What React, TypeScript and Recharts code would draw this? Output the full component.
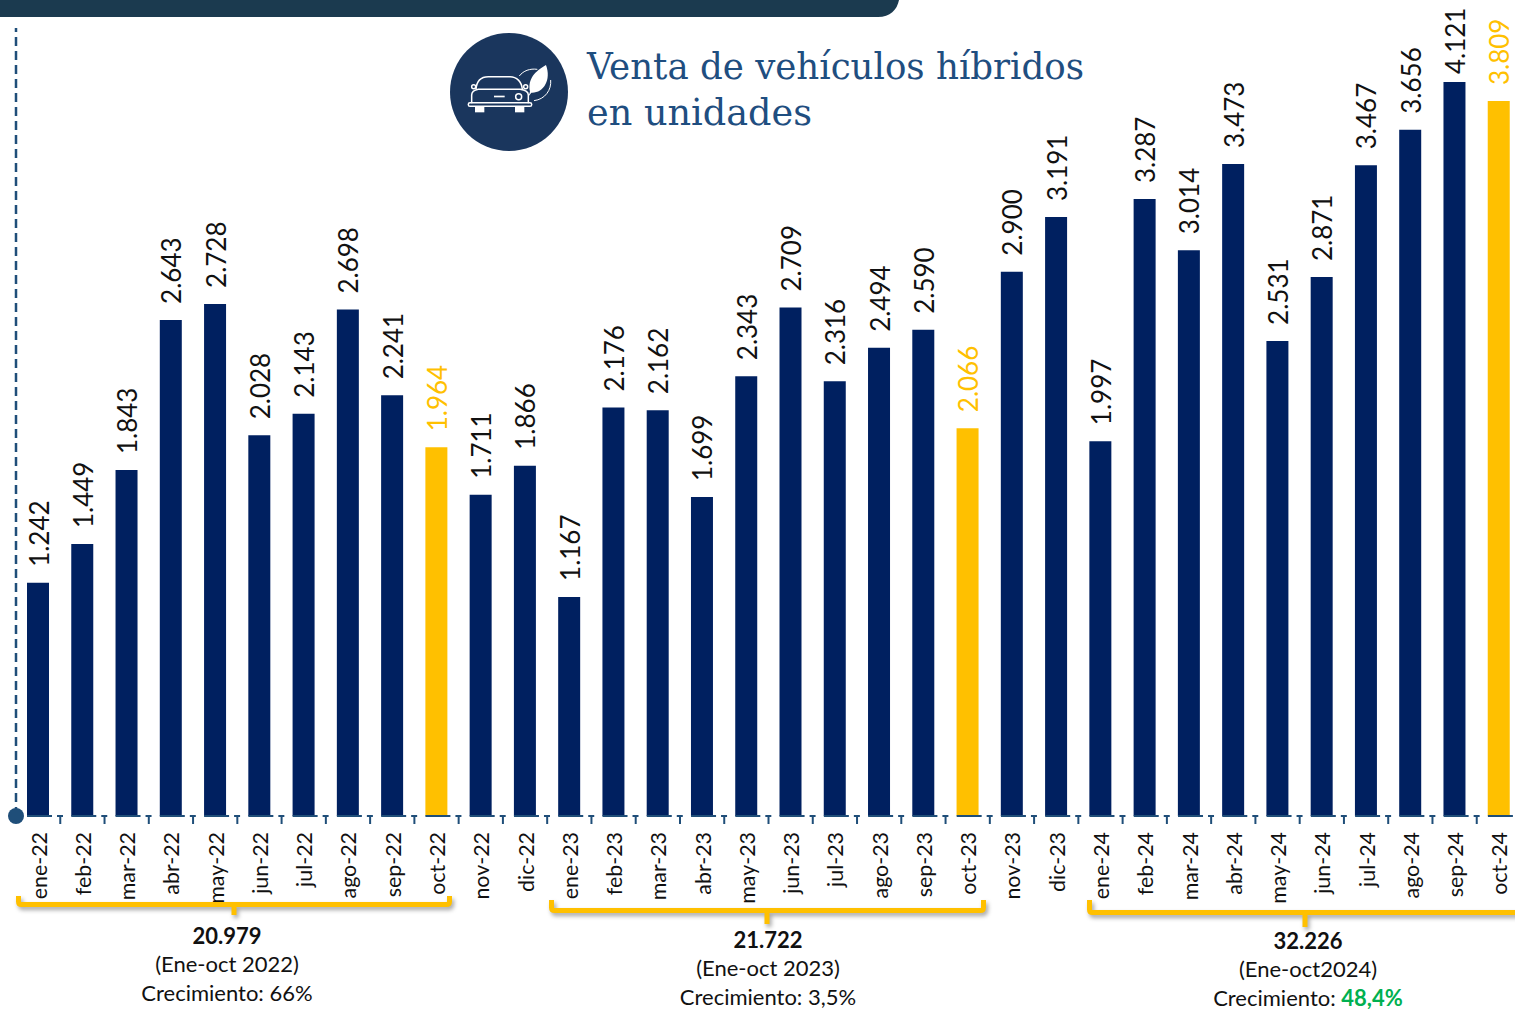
import React from 'react';
import { BarChart, Bar, Cell, XAxis, YAxis, LabelList } from 'recharts';

const months = [
    'ene-22', 'feb-22', 'mar-22', 'abr-22', 'may-22', 'jun-22', 'jul-22', 'ago-22', 'sep-22', 'oct-22', 'nov-22', 'dic-22',
    'ene-23', 'feb-23', 'mar-23', 'abr-23', 'may-23', 'jun-23', 'jul-23', 'ago-23', 'sep-23', 'oct-23', 'nov-23', 'dic-23',
    'ene-24', 'feb-24', 'mar-24', 'abr-24', 'may-24', 'jun-24', 'jul-24', 'ago-24', 'sep-24', 'oct-24',
];

// bar heights as drawn; sep-24 is drawn shorter in the source than its printed label
const barValues = [
    1242, 1449, 1843, 2643, 2728, 2028, 2143, 2698, 2241, 1964, 1711, 1866,
    1167, 2176, 2162, 1699, 2343, 2709, 2316, 2494, 2590, 2066, 2900, 3191,
    1997, 3287, 3014, 3473, 2531, 2871, 3467, 3656, 3910, 3809,
];

const printedLabels = [
    '1.242', '1.449', '1.843', '2.643', '2.728', '2.028', '2.143', '2.698', '2.241', '1.964', '1.711', '1.866',
    '1.167', '2.176', '2.162', '1.699', '2.343', '2.709', '2.316', '2.494', '2.590', '2.066', '2.900', '3.191',
    '1.997', '3.287', '3.014', '3.473', '2.531', '2.871', '3.467', '3.656', '4.121', '3.809',
];

const highlighted = ['oct-22', 'oct-23', 'oct-24'];

const NAVY = '#002060';
const AMBER = '#FFC000';
const AXIS_BLUE = '#1F4E79';
const FONT = 'Lato, "Open Sans", sans-serif';

const data = months.map((month, i) => ({ month, value: barValues[i], label: printedLabels[i] }));

const BAND = 44.27;

const MonthTick = ({ x, payload }: any) => (
    <g>
        <line x1={x + BAND / 2} x2={x + BAND / 2} y1={816} y2={824} stroke={AXIS_BLUE} strokeWidth={2} />
        <text
            transform={`translate(${x + 8.5},${832}) rotate(-90)`}
            textAnchor="end"
            fontFamily={FONT}
            fontSize={21.4}
            fill="#111"
        >
            {payload.value}
        </text>
    </g>
);

const ValueLabel = ({ x, y, width, index }: any) => {
    const isOct = highlighted.includes(months[index]);
    // the sep-24 label sits closer to its bar in the source
    const gap = months[index] === 'sep-24' ? 8 : 16;
    return (
        <text
            transform={`translate(${x + width / 2 + 10.5},${y - gap}) rotate(-90)`}
            fontFamily={FONT}
            fontSize={26}
            fill={isOct ? AMBER : '#111'}
        >
            {printedLabels[index]}
        </text>
    );
};

const Bracket = ({ left, right, top, bar, tipX, tipY }: any) => (
    <path
        d={`M${left} ${top} V${bar - 3} Q${left} ${bar} ${left + 3} ${bar} H${right - 3} Q${right} ${bar} ${right} ${bar - 3} V${top} M${tipX} ${bar} V${tipY}`}
        fill="none"
        stroke={AMBER}
        strokeWidth={5}
        style={{ filter: 'drop-shadow(2px 3px 2px rgba(0,0,0,0.35))' }}
    />
);

const Summary = ({ cx, y, total, period, growth, green }: any) => (
    <g fontFamily={FONT} fontSize={22} fill="#111" textAnchor="middle">
        <text x={cx} y={y + 1} fontWeight={700}>{total}</text>
        <text x={cx} y={y + 29}>{period}</text>
        <text x={cx} y={y + 58}>
            Crecimiento: {green ? <tspan fill="#00B050" fontWeight={700}>{growth}</tspan> : growth}
        </text>
    </g>
);

const CarIcon = () => (
    <g transform="translate(460,60) scale(0.3333)" fill="none" stroke="#fff" strokeWidth={4.5}>
        <path d="M48 88 C50 60 65 50 85 50 L150 50 C170 50 185 65 187 88" />
        <path d="M35 130 L35 105 C35 95 45 90 55 88 L180 88 C195 90 205 97 205 105 L205 130" />
        <rect x={25} y={128} width={190} height={11} rx={5} />
        <rect x={45} y={140} width={28} height={17} fill="#fff" stroke="none" />
        <rect x={165} y={140} width={28} height={17} fill="#fff" stroke="none" />
        <rect x={102} y={107} width={32} height={5} fill="#fff" stroke="none" />
        <circle cx={176} cy={110} r={9} />
        <circle cx={41} cy={80} r={6} />
        <circle cx={197} cy={80} r={6} />
        <path d="M258 15 C225 35 203 55 210 95 L205 110 L214 98 C250 100 275 60 258 15 Z" fill="#fff" stroke="none" />
        <path d="M178 48 C190 32 210 25 232 28" strokeWidth={3} />
        <path d="M272 60 C275 90 255 118 222 122" strokeWidth={3} />
    </g>
);

export default function App() {
    return (
        <div style={{ position: 'absolute', left: 0, top: 0, width: 1515, height: 1009, overflow: 'hidden', background: '#fff' }}>
            <div style={{ position: 'absolute', left: 0, top: 0 }}>
                <BarChart
                    width={1521}
                    height={1009}
                    data={data}
                    margin={{ top: 28, right: 0, bottom: 0, left: 15 }}
                    barCategoryGap={0}
                >
                    <XAxis
                        dataKey="month"
                        interval={0}
                        height={193}
                        tickLine={false}
                        tick={<MonthTick />}
                        axisLine={{ stroke: AXIS_BLUE, strokeWidth: 2, strokeDasharray: '25 5 6 8.27', strokeDashoffset: 33.27 }}
                    />
                    <YAxis
                        width={1}
                        domain={[0, 4198]}
                        tick={false}
                        tickLine={false}
                        axisLine={{ stroke: AXIS_BLUE, strokeWidth: 2.5, strokeDasharray: '9 5', strokeDashoffset: 5 }}
                    />
                    <Bar dataKey="value" barSize={22} isAnimationActive={false}>
                        {data.map((d) => (
                            <Cell key={d.month} fill={highlighted.includes(d.month) ? AMBER : NAVY} />
                        ))}
                        <LabelList dataKey="label" content={<ValueLabel />} />
                    </Bar>
                </BarChart>
            </div>
            <svg width={1515} height={1009} style={{ position: 'absolute', left: 0, top: 0, pointerEvents: 'none' }}>
                <path d="M0 0 H899 C897 10 890 17 878 17 H0 Z" fill="#1B3A4F" />
                <circle cx={16} cy={816} r={8} fill={AXIS_BLUE} />
                <circle cx={509} cy={92} r={59} fill="#1A365D" />
                <CarIcon />
                <g fontFamily='"DejaVu Serif Condensed", "DejaVu Serif", serif' fontSize={38} fill="#1F4E80">
                    <text x={587} y={79} textLength={497} lengthAdjust="spacingAndGlyphs">Venta de vehículos híbridos</text>
                    <text x={587} y={125} textLength={225} lengthAdjust="spacingAndGlyphs">en unidades</text>
                </g>
                <Bracket left={18.5} right={449.5} top={896} bar={904.5} tipX={234} tipY={915} />
                <Bracket left={551.5} right={983.5} top={900} bar={910.5} tipX={767} tipY={924} />
                <Bracket left={1089.5} right={1540} top={900} bar={912.5} tipX={1305} tipY={927} />
                <Summary cx={227} y={943} total="20.979" period="(Ene-oct 2022)" growth="66%" />
                <Summary cx={768} y={947} total="21.722" period="(Ene-oct 2023)" growth="3,5%" />
                <Summary cx={1308} y={948} total="32.226" period="(Ene-oct2024)" growth="48,4%" green />
            </svg>
        </div>
    );
}
